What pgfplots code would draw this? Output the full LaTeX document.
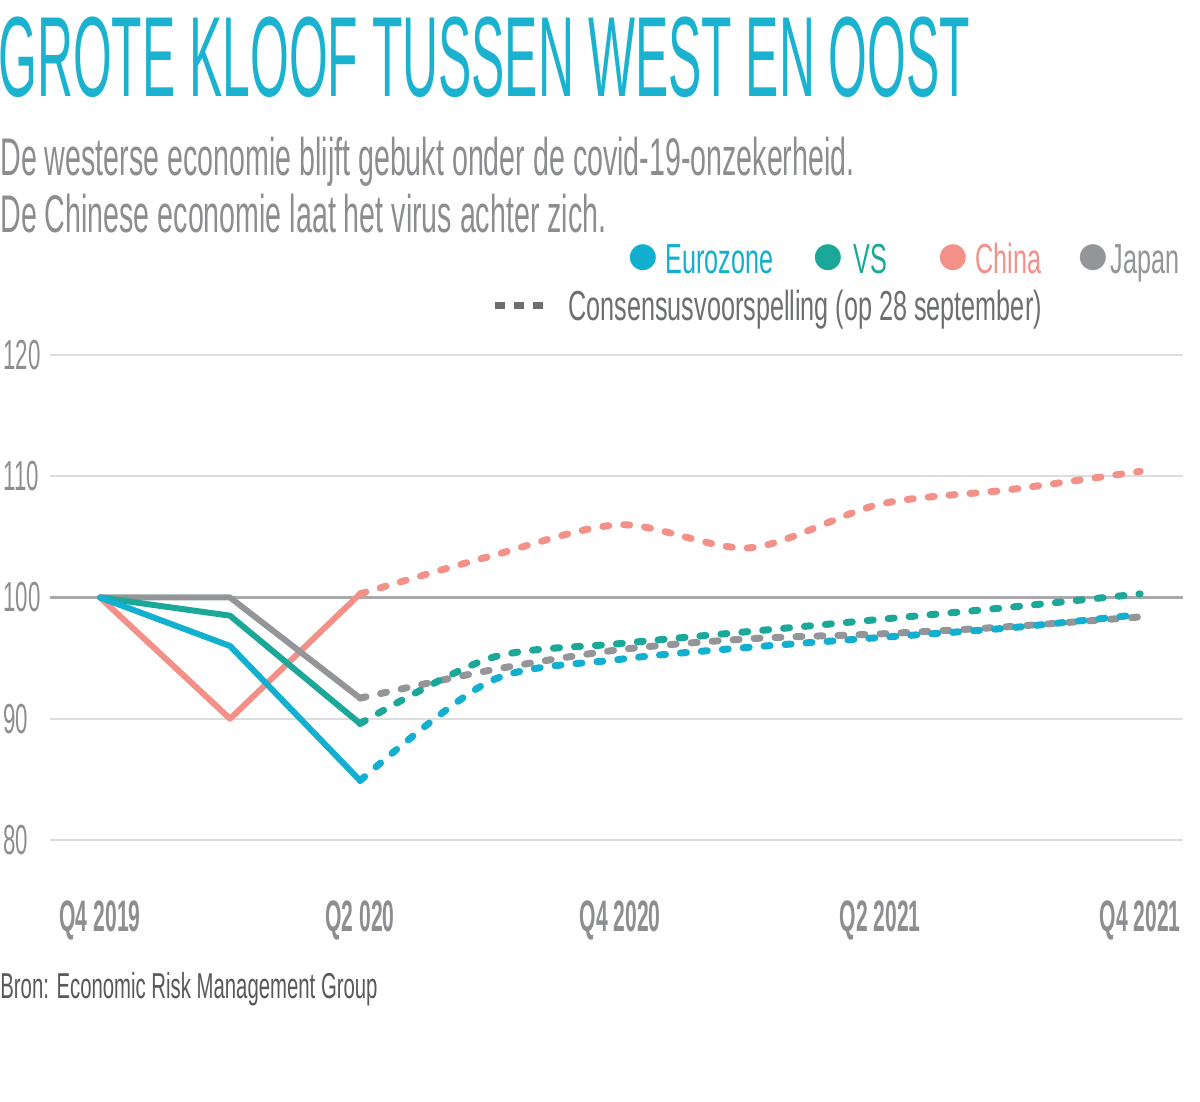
\documentclass[border=0pt]{standalone}
\usepackage{fontspec}
\setmainfont{Liberation Sans}
\newfontfamily\titlefont{Liberation Sans}[FakeStretch=0.437]
\newfontfamily\subfont{Liberation Sans}[FakeStretch=0.54]
\newfontfamily\legfont{Liberation Sans}[FakeStretch=0.6]
\newfontfamily\srcfont{Liberation Sans}[FakeStretch=0.565]
\newfontfamily\ytfont{Liberation Sans}[FakeStretch=0.53]
\newfontfamily\xtfont{Liberation Sans}[FakeStretch=0.48]
\newfontfamily\symfont{DejaVu Sans}
\usepackage{pgfplots}
\pgfplotsset{compat=1.18}

\definecolor{titlec}{HTML}{1AB2CF}
\definecolor{euro}{HTML}{12AFD0}
\definecolor{vs}{HTML}{1BA898}
\definecolor{china}{HTML}{F39189}
\definecolor{japan}{HTML}{939598}
\definecolor{gridc}{HTML}{DCDDDE}
\definecolor{hundred}{HTML}{A7A9AC}
\definecolor{subc}{HTML}{8C8D90}
\definecolor{tickc}{HTML}{8D8E91}
\definecolor{srcc}{HTML}{58595B}
\definecolor{consc}{HTML}{6D6E71}

\pgfplotsset{
  solid line/.style={line width=3bp, line join=round, line cap=round},
  forecast/.style={line width=3.5bp, line cap=round, dash pattern=on 3bp off 7.5bp, smooth, tension=0.5},
}

\begin{document}
\begin{tikzpicture}
\begin{scope}[x=0.5bp,y=0.5bp]
  \path[use as bounding box] (0,0) rectangle (1200,1101);
  % titles
  \node[anchor=base west, inner sep=0pt, text=titlec, font=\titlefont\fontsize{57bp}{57bp}\selectfont] at (-2,1004) {GROTE KLOOF TUSSEN WEST EN OOST};
  \node[anchor=base west, inner sep=0pt, text=subc, font=\subfont\fontsize{26.5bp}{26.5bp}\selectfont] at (0,925) {De westerse economie blijft gebukt onder de covid-19-onzekerheid.};
  \node[anchor=base west, inner sep=0pt, text=subc, font=\subfont\fontsize{26.5bp}{26.5bp}\selectfont] at (0,868) {De Chinese economie laat het virus achter zich.};
  % legend
  \node[anchor=center, inner sep=0pt, text=euro, font=\symfont\fontsize{17bp}{17bp}\selectfont] at (643,843) {●};
  \node[anchor=base west, inner sep=0pt, text=euro, font=\legfont\fontsize{21bp}{21bp}\selectfont] at (665,828) {Eurozone};
  \node[anchor=center, inner sep=0pt, text=vs, font=\symfont\fontsize{17bp}{17bp}\selectfont] at (828,843) {●};
  \node[anchor=base west, inner sep=0pt, text=vs, font=\legfont\fontsize{21bp}{21bp}\selectfont] at (853,828) {VS};
  \node[anchor=center, inner sep=0pt, text=china, font=\symfont\fontsize{17bp}{17bp}\selectfont] at (953,843) {●};
  \node[anchor=base west, inner sep=0pt, text=china, font=\legfont\fontsize{21bp}{21bp}\selectfont] at (975,828) {China};
  \node[anchor=center, inner sep=0pt, text=japan, font=\symfont\fontsize{17bp}{17bp}\selectfont] at (1093,843) {●};
  \node[anchor=base west, inner sep=0pt, text=japan, font=\legfont\fontsize{21bp}{21bp}\selectfont] at (1110,828) {Japan};
  \node[anchor=west, inner sep=0pt, text=consc] at (495,796) {\rule{5bp}{3.5bp}\hspace{4.5bp}\rule{5bp}{3.5bp}\hspace{4.5bp}\rule{5bp}{3.5bp}};
  \node[anchor=base west, inner sep=0pt, text=consc, font=\legfont\fontsize{21bp}{21bp}\selectfont] at (568,781) {Consensusvoorspelling (op 28 september)};
  % source
  \node[anchor=base west, inner sep=0pt, text=srcc, font=\srcfont\fontsize{18bp}{18bp}\selectfont] at (0,103) {Bron: Economic Risk Management Group};
\end{scope}

\begin{axis}[
  at={(25bp,130.5bp)}, anchor=south west,
  scale only axis, width=566.5bp, height=242.5bp,
  xmin=-0.385, xmax=8.33, ymin=80, ymax=120,
  axis line style={draw=none},
  major tick length=0pt,
  ytick={80,90,110,120},
  extra y ticks={100},
  extra y tick style={grid style={color=hundred, line width=1.3bp}},
  ymajorgrids,
  grid style={color=gridc, line width=1bp},
  xtick={0,2,4,6,8},
  xticklabels={Q4 2019, Q2 020, Q4 2020, Q2 2021, Q4 2021},
  /pgf/number format/assume math mode=true,
  yticklabel style={anchor=west, inner sep=0pt, xshift=-23.5bp, text=tickc,
    font=\ytfont\fontsize{21bp}{21bp}\selectfont},
  xticklabel style={anchor=center, inner sep=0pt, yshift=-40bp, text=tickc,
    font=\xtfont\bfseries\fontsize{22bp}{22bp}\selectfont},
  clip=false,
]
  % forecasts (dotted)
  \addplot[forecast, china] coordinates {(2,100.3) (3,103.4) (4,106.0) (5,104.1) (6,107.7) (7,108.9) (8,110.4)};
  \addplot[forecast, japan] coordinates {(2,91.7) (3,94.0) (4,95.7) (5,96.6) (6,97.0) (7,97.6) (8,98.4)};
  \addplot[forecast, vs] coordinates {(2,89.6) (3,95.0) (4,96.2) (5,97.2) (6,98.2) (7,99.2) (8,100.3)};
  \addplot[forecast, euro] coordinates {(2,84.9) (3,93.1) (4,94.9) (5,95.9) (6,96.7) (7,97.5) (8,98.6)};
  % realised (solid)
  \addplot[solid line, china] coordinates {(0,100) (1,90) (2,100.3)};
  \addplot[solid line, japan] coordinates {(0,100) (1,100) (2,91.7)};
  \addplot[solid line, vs] coordinates {(0,100) (1,98.5) (2,89.6)};
  \addplot[solid line, euro] coordinates {(0,100) (1,96.0) (2,84.9)};
\end{axis}
\end{tikzpicture}
\end{document}
